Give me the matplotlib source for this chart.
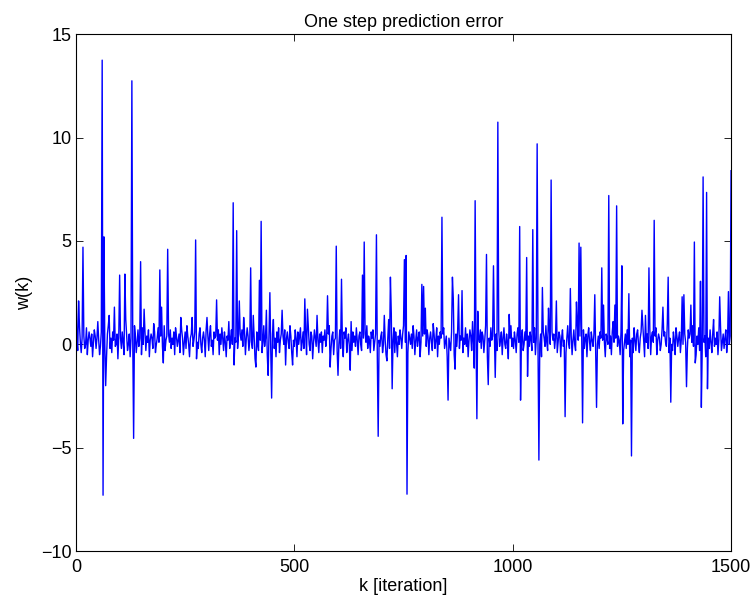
import numpy as np
import matplotlib
matplotlib.use('Agg')
import matplotlib.pyplot as plt

plt.rcParams['font.family'] = ['Liberation Sans', 'DejaVu Sans']

# background noise of the prediction error (one value every 2 iterations)
noise = [
    0.5, 0.2, -0.3, 0.6, 0.9, 0.1, -0.4, 0.3, 0.7, 0.4, -0.2, 0.0, 0.8, -0.5, 0.2, 0.6, 0.3, -0.1, 0.5, -0.6,
    0.1, 0.7, 0.4, -0.2, 0.3, 1.1, 0.2, -0.5, -0.1, 0.6, 0.3, 0.8, -0.3, 0.0, 0.4, -0.6, 0.5, 0.9, 0.1, -0.2,
    0.3, -0.4, 0.6, 0.2, 0.7, -0.1, 0.0, 0.5, -0.7, 0.4, 0.8, 0.3, -0.2, 0.6, 0.1, -0.5, 0.2, 1.2, 0.4, -0.3,
    0.0, 0.5, -0.6, 0.3, 0.6, 0.2, -0.2, 0.9, 0.4, -0.4, 0.1, 0.7, -0.1, 0.3, 0.5, -0.5, 0.8, 0.0, 0.2, 0.6,
    -0.3, 0.4, 0.1, 0.7, -0.6, 0.2, 0.5, 0.3, -0.2, 1.0, 0.6, -0.4, 0.0, 0.3, 0.8, 0.1, -0.5, 0.4, 0.2, -0.1,
    0.6, 0.9, -0.3, 0.2, 0.4, -0.7, 0.5, 0.1, 0.7, -0.2, 0.3, 0.0, 0.6, -0.5, 0.8, 0.4, -0.1, 0.2, 0.5, -0.4,
    0.2, 0.7, 0.3, -0.5, 0.1, 0.6, -0.2, 0.9, 0.4, 0.0, -0.6, 0.3, 0.5, 1.3, -0.1, 0.2, 0.6, -0.3, 0.4, 0.1,
    -0.2, 0.5, 0.8, 0.0, -0.4, 0.3, 0.6, 0.2, -0.6, 0.7, 0.1, 0.4, -0.3, 0.5, 0.9, -0.1, 0.2, -0.5, 0.6, 0.3,
    0.4, -0.1, 0.2, 0.7, -0.5, 0.5, 0.0, 0.8, 0.3, -0.3, 0.6, 0.1, -0.6, 0.4, 0.2, 1.1, -0.2, 0.3, 0.7, 0.0,
    -0.4, 0.6, 0.3, 0.1, 0.9, -0.2, 0.4, -0.6, 0.5, 0.2, 0.7, -0.1, 0.0, 0.6, -0.5, 0.3, 0.8, 0.4, -0.3, 0.2,
    0.5, 0.1, -0.2, 0.8, 0.3, -0.7, 0.4, 0.6, 0.0, -0.3, 0.7, 0.2, 0.5, -0.4, 0.1, 0.9, -0.1, 0.3, 0.6, -0.5,
    0.2, 0.4, 0.7, -0.3, 0.0, 0.5, 1.2, -0.2, 0.3, -0.6, 0.6, 0.1, 0.8, -0.4, 0.2, 0.5, -0.1, 0.4, 0.0, 0.7,
    -0.5, 0.3, 0.6, 0.1, -0.2, 0.9, 0.4, -0.4, 0.5, 0.2, -0.1, 0.7, 0.3, -0.6, 0.6, 0.0, 0.4, 0.8, -0.3, 0.1,
    0.6, -0.2, 0.3, 0.5, -0.5, 0.2, 0.8, 0.0, -0.3, 0.6, 0.4, -0.7, 0.1, 0.7, 0.3, -0.1, 1.0, 0.2, -0.4, 0.5,
    0.1, 0.6, -0.4, 0.4, 0.2, 0.7, -0.1, 0.3, -0.6, 0.5, 0.9, 0.0, -0.2, 0.4, 0.6, -0.5, 0.2, 0.3, 0.8, -0.3,
    0.4, 0.0, 0.7, -0.2, 0.5, 0.1, -0.6, 0.6, 0.3, 0.8, -0.4, 0.2, 0.5, -0.1, 0.3, 1.1, -0.3, 0.6, 0.1, 0.4,
    -0.1, 0.8, 0.2, -0.5, 0.4, 0.6, 0.0, -0.3, 0.7, 0.3, -0.6, 0.5, 0.1, 0.9, -0.2, 0.4, 0.2, -0.4, 0.6, 0.3,
    0.7, -0.3, 0.1, 0.5, 0.3, -0.6, 0.8, 0.2, -0.1, 0.4, 0.6, -0.4, 0.0, 0.7, 0.2, -0.5, 0.5, 0.3, 1.2, -0.2,
    0.3, 0.5, -0.1, 0.2, 0.8, -0.4, 0.6, 0.1, -0.6, 0.4, 0.0, 0.7, 0.3, -0.2, 0.5, 0.9, -0.3, 0.1, 0.6, 0.2,
    -0.4, 0.6, 0.3, 0.0, 0.5, -0.2, 0.9, 0.4, -0.5, 0.2, 0.7, -0.1, 0.3, 0.6, -0.6, 0.1, 0.8, 0.4, -0.3, 0.5,
    0.2, -0.1, 0.7, 0.4, -0.5, 0.3, 0.6, 0.1, -0.3, 1.0, 0.5, -0.2, 0.2, 0.8, -0.6, 0.4, 0.0, 0.6, 0.3, -0.4,
    0.5, 0.8, -0.2, 0.1, 0.4, -0.6, 0.7, 0.3, 0.0, -0.3, 0.6, 0.2, 0.9, -0.5, 0.3, 0.5, -0.1, 0.7, 0.1, -0.2,
    0.4, 0.2, 0.6, -0.4, 0.3, 0.0, 0.8, -0.1, 0.5, -0.6, 0.2, 0.7, 0.4, -0.3, 1.1, 0.1, -0.2, 0.5, 0.3, 0.6,
    -0.5, 0.3, 0.1, 0.7, -0.2, 0.6, 0.4, -0.4, 0.2, 0.9, 0.0, -0.6, 0.5, 0.3, -0.1, 0.8, 0.2, 0.4, -0.3, 0.6,
    0.1, 0.5, -0.3, 0.4, 0.7, -0.1, 0.2, 0.6, -0.5, 0.3, 0.8, 0.0, -0.2, 0.5, 0.1, -0.7, 0.6, 0.3, 0.9, -0.1,
    0.3, -0.2, 0.6, 0.2, -0.4, 0.5, 0.8, 0.1, -0.6, 0.4, 0.3, 0.7, -0.3, 0.0, 0.6, 0.2, -0.5, 1.2, 0.4, -0.1,
    0.6, 0.2, -0.3, 0.5, 0.1, 0.8, -0.5, 0.3, 0.4, -0.2, 0.7, 0.0, 0.5, -0.6, 0.2, 0.6, 0.3, -0.1, 0.9, 0.1,
    -0.3, 0.4, 0.7, 0.0, -0.5, 0.6, 0.2, 0.5, -0.2, 0.3, 0.8, -0.4, 0.1, 0.6, 0.4, -0.6, 0.3, 0.7, -0.1, 0.2,
    0.5, -0.4, 0.3, 0.9, 0.1, -0.2, 0.6, 0.4, -0.5, 0.2, 0.7, 0.0, -0.3, 0.5, 1.0, 0.2, -0.6, 0.4, 0.1, 0.6,
    0.0, 0.7, -0.2, 0.3, 0.5, -0.6, 0.4, 0.8, 0.1, -0.3, 0.6, 0.2, -0.1, 0.5, 0.3, -0.5, 0.9, 0.0, 0.4, -0.2,
    0.6, 0.3, -0.4, 0.2, 0.7, 0.1, -0.6, 0.5, 0.3, 0.0, 0.8, -0.2, 0.4, -0.5, 0.6, 1.1, 0.1, -0.3, 0.3, 0.5,
    -0.1, 0.4, 0.2, -0.5, 0.6, 0.3, 0.9, -0.3, 0.1, 0.5, -0.2, 0.7, 0.0, 0.4, -0.6, 0.2, 0.6, 0.3, -0.4, 0.8,
    0.2, -0.3, 0.5, 0.7, 0.0, -0.4, 0.3, 0.6, -0.1, 0.9, 0.2, -0.6, 0.4, 0.1, 0.5, -0.2, 0.3, 0.7, -0.5, 0.4,
    0.6, 0.1, -0.2, 0.4, 0.8, -0.5, 0.2, 0.5, 0.3, -0.3, 0.0, 0.7, -0.6, 0.4, 0.6, 0.1, -0.1, 1.0, 0.3, -0.4,
    0.3, 0.5, 0.0, -0.3, 0.6, 0.2, -0.5, 0.8, 0.4, -0.1, 0.3, 0.6, -0.4, 0.2, 0.7, 0.0, -0.6, 0.5, 0.1, 0.4,
    -0.2, 0.7, 0.3, 0.5, -0.4, 0.1, 0.9, -0.1, 0.2, 0.6, -0.5, 0.4, 0.0, 0.8, -0.3, 0.3, 0.5, -0.2, 0.6, 0.1,
    0.4, -0.6, 0.2, 0.6, 0.3, -0.2, 0.7, 0.1, -0.4, 0.5, 1.2, -0.1, 0.3, 0.0, 0.6, -0.5, 0.2, 0.4, 0.8, -0.3,
    0.1, 0.5, -0.2, 0.3, 0.7, -0.4, 0.2, 0.6, 0.0, 0.4, 0.3,
]

# isolated spikes: iteration and error value
spike_k = [0, 6, 15, 59, 62, 65, 69, 75, 88, 100, 111, 128, 131, 148, 156, 191, 195, 199, 210, 240,
           274, 277, 299, 322, 359, 362, 368, 374, 383, 400, 406, 412, 421, 424, 437, 440, 445, 448, 471, 480,
           496, 523, 530, 551, 575, 582, 596, 599, 609, 629, 657, 661, 689, 692, 706, 713, 719, 722, 725, 752,
           755, 758, 793, 796, 800, 838, 851, 862, 865, 868, 876, 883, 911, 914, 918, 921, 940, 943, 956, 959,
           966, 991, 1015, 1018, 1031, 1034, 1046, 1057, 1060, 1069, 1082, 1089, 1099, 1120, 1131, 1146, 1153, 1157, 1161, 1187,
           1192, 1204, 1209, 1221, 1234, 1238, 1250, 1253, 1266, 1273, 1296, 1305, 1311, 1325, 1344, 1357, 1362, 1387, 1392, 1398,
           1409, 1415, 1418, 1430, 1433, 1436, 1443, 1446, 1474, 1494, 1500]
spike_w = [3.0, 2.1, 4.7, 13.75, -7.3, 5.2, -2.0, 1.4, 1.8, 3.35, 3.4, 12.75, -4.55, 4.0, 1.7, 3.6, 1.8, -0.9, 4.6, 1.3,
           5.05, -0.7, 1.3, 2.15, 6.85, -1.0, 5.5, 2.1, 1.3, 3.7, 1.4, -1.1, 3.1, 5.95, 1.65, -1.5, 2.5, -2.6, 1.65, -1.0,
           -1.0, 2.2, 1.7, 1.4, 2.35, -1.1, 4.75, -1.5, 3.15, -1.25, 3.35, 4.95, 5.3, -4.45, 1.4, -0.8, 3.25, 1.5, -2.15, 4.1,
           4.3, -7.25, 2.9, 2.8, 1.75, 6.15, -2.7, 3.25, 2.2, -1.2, 2.4, 2.6, -1.15, 6.95, -3.6, 1.6, 4.35, -1.95, 3.8, -1.6,
           10.75, 1.45, 5.7, -2.7, 4.2, -1.55, 5.55, 9.7, -5.6, 2.75, 1.75, 7.95, 2.1, -3.5, 2.7, 2.05, 4.9, 4.7, -3.8, 2.4,
           -3.05, 3.7, 1.9, 7.2, 1.9, 6.7, 3.8, -3.85, 2.45, -5.4, 1.65, 1.4, 3.7, 6.0, 1.8, 3.25, -2.8, 2.3, 2.4, -2.05,
           1.9, 4.95, -0.9, 3.05, -3.05, 8.1, 7.35, -2.15, 2.3, 2.55, 8.4]

xticks = [0, 500, 1000, 1500]
yticks = [-10, -5, 0, 5, 10, 15]

step = 1500 / (len(noise) - 1)
k = np.arange(len(noise)) * step
w = np.array(noise, dtype=float)
for kk, ww in zip(spike_k, spike_w):
    w[int(round(kk / step))] = ww

fig = plt.figure(figsize=(7.56, 6.02), dpi=100)
ax = fig.add_axes([0.1005, 0.0847, 0.8665, 0.8583])
ax.plot(k, w, color='#0000ff', lw=1.0)

ax.set_xlim(0, 1500)
ax.set_ylim(-10, 15)
ax.set_xticks(xticks)
ax.set_yticks(yticks)
ax.tick_params(direction='in', top=True, right=True, length=5, width=0.6, labelsize=13)
ax.tick_params(axis='x', pad=6)
ax.tick_params(axis='y', pad=3)
for s in ax.spines.values():
    s.set_linewidth(0.8)

ax.set_title('One step prediction error', fontsize=13, pad=5)
ax.set_xlabel('k [iteration]', fontsize=13, labelpad=1)
ax.set_ylabel('w(k)', fontsize=13, labelpad=6)

fig.savefig('out.png', dpi=100)
